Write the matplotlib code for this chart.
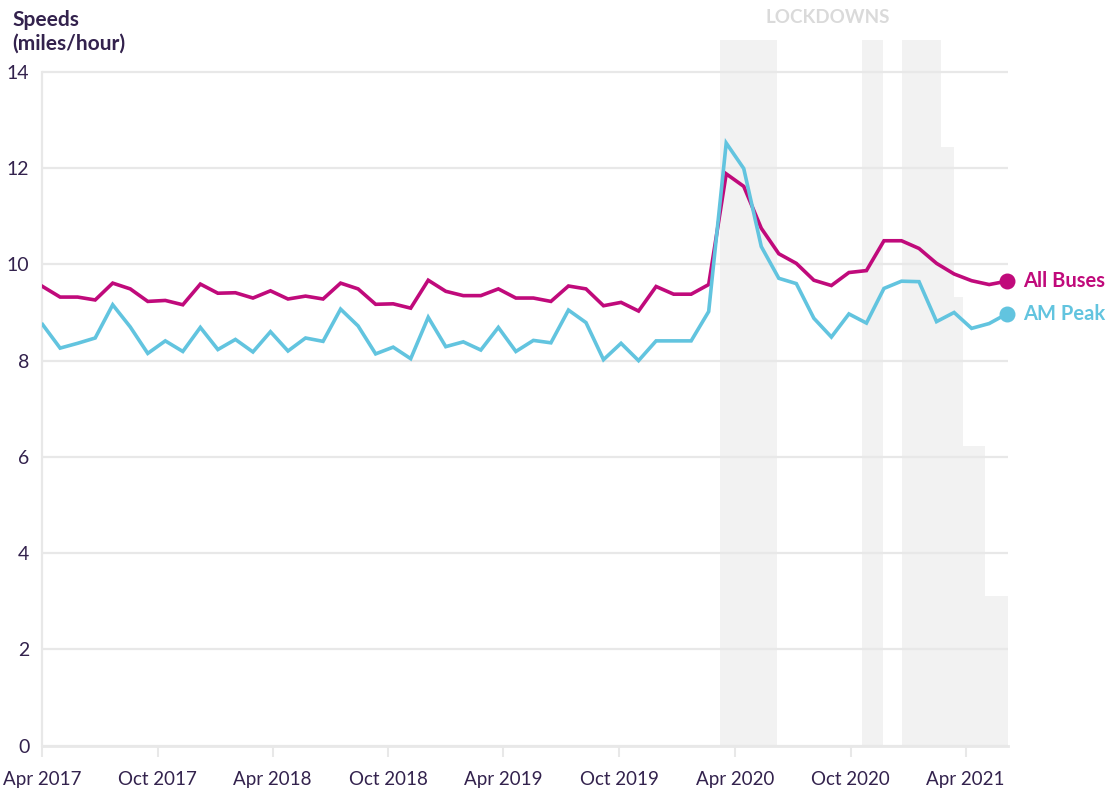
import pandas as pd
import matplotlib
matplotlib.use("Agg")
import matplotlib.pyplot as plt
import matplotlib.dates as mdates

plt.rcParams["font.family"] = ["Lato", "DejaVu Sans"]

# 4-weekly periods, Apr 2017 .. Jun 2021
periods = pd.date_range("2017-04-02", "2021-06-05", periods=56)

all_buses = [9.54, 9.32, 9.32, 9.26, 9.61, 9.49, 9.23, 9.25, 9.16, 9.59,
             9.40, 9.41, 9.30, 9.45, 9.28, 9.34, 9.28, 9.61, 9.49, 9.17,
             9.18, 9.09, 9.67, 9.44, 9.35, 9.35, 9.49, 9.30, 9.30, 9.23,
             9.55, 9.49, 9.14, 9.21, 9.03, 9.54, 9.38, 9.38, 9.58, 11.88,
             11.62, 10.75, 10.22, 10.02, 9.67, 9.56, 9.83, 9.87, 10.49, 10.49,
             10.33, 10.02, 9.80, 9.66, 9.58, 9.65]

am_peak = [8.75, 8.26, 8.36, 8.47, 9.16, 8.70, 8.15, 8.41, 8.19, 8.69,
           8.23, 8.44, 8.18, 8.60, 8.20, 8.47, 8.40, 9.07, 8.72, 8.14,
           8.28, 8.04, 8.90, 8.29, 8.39, 8.22, 8.69, 8.19, 8.42, 8.37,
           9.05, 8.79, 8.02, 8.36, 8.00, 8.41, 8.41, 8.41, 9.02, 12.52,
           11.99, 10.37, 9.71, 9.60, 8.88, 8.49, 8.97, 8.78, 9.50, 9.65,
           9.64, 8.81, 9.00, 8.67, 8.77, 8.97]

# lockdown shading: start, end, height (full height = top of chart)
y_top = 14.66
lock_start = ["2020-03-09", "2020-10-19", "2020-12-21", "2021-02-21",
              "2021-03-14", "2021-03-28", "2021-05-02"]
lock_end = ["2020-06-07", "2020-11-22", "2021-02-21", "2021-03-14",
            "2021-03-28", "2021-05-02", "2021-06-07"]
lock_level = [y_top, y_top, y_top, 12.44, 9.33, 6.22, 3.11]

tick_dates = pd.date_range("2017-04-01", "2021-04-01", freq="6MS")

text_col = "#33224d"
grid_col = "#e8e8e8"
pink = "#c00a7b"
blue = "#62c4df"

fig = plt.figure(figsize=(11.13, 7.94), dpi=100)
ax = fig.add_axes([0.0377, 0.0608, 0.8679, 0.8888])

starts = pd.to_datetime(lock_start)
ends = pd.to_datetime(lock_end)
ax.bar(mdates.date2num(starts), lock_level,
       width=mdates.date2num(ends) - mdates.date2num(starts),
       align="edge", color="#f2f2f2", zorder=0.5)
mid = starts[0] + (ends[2] - starts[0]) / 2
ax.text(mid - pd.Timedelta(days=4), 1.02, "LOCKDOWNS",
        transform=ax.get_xaxis_transform(),
        ha="center", va="bottom", fontsize=13.5, fontweight="bold",
        color="#dadada")

ax.plot(periods, all_buses, color=pink, lw=2.6, zorder=3,
        solid_joinstyle="miter")
ax.plot(periods, am_peak, color=blue, lw=2.6, zorder=3,
        solid_joinstyle="miter")
ax.scatter([periods[-1]], [all_buses[-1]], s=110, color=pink, zorder=4,
           clip_on=False)
ax.scatter([periods[-1]], [am_peak[-1]], s=110, color=blue, zorder=4,
           clip_on=False)
ax.annotate("All Buses", (periods[-1], all_buses[-1]), xytext=(12, 0),
            textcoords="offset points", va="center", fontsize=14.5,
            fontweight="bold", color=pink, annotation_clip=False)
ax.annotate("AM Peak", (periods[-1], am_peak[-1]), xytext=(12, 0),
            textcoords="offset points", va="center", fontsize=14.5,
            fontweight="bold", color=blue, annotation_clip=False)

ax.set_ylim(0, y_top)
ax.set_xlim(pd.Timestamp("2017-04-01"), pd.Timestamp("2021-06-07"))
ax.set_yticks(range(0, 15, 2))
ax.set_xticks(tick_dates)
ax.set_xticklabels([d.strftime("%b %Y") for d in tick_dates])

ax.grid(axis="y", color=grid_col, lw=1.6, zorder=1)
ax.set_axisbelow(False)
for s in ["top", "right"]:
    ax.spines[s].set_visible(False)
ax.spines["left"].set_bounds(0, 14)
ax.spines["left"].set_color(grid_col)
ax.spines["left"].set_linewidth(1.6)
ax.spines["bottom"].set_color(grid_col)
ax.spines["bottom"].set_linewidth(2)
ax.tick_params(axis="y", length=0, pad=9, labelsize=14, labelcolor=text_col)
ax.tick_params(axis="x", length=8, width=1.5, color=grid_col, pad=10,
               labelsize=13.5, labelcolor=text_col)

fig.text(12 / 1113, 1 - 32 / 794, "Speeds\n(miles/hour)", ha="left",
         va="center", fontsize=15, fontweight="bold", color=text_col,
         linespacing=1.25)

fig.savefig("out.png", dpi=100)
